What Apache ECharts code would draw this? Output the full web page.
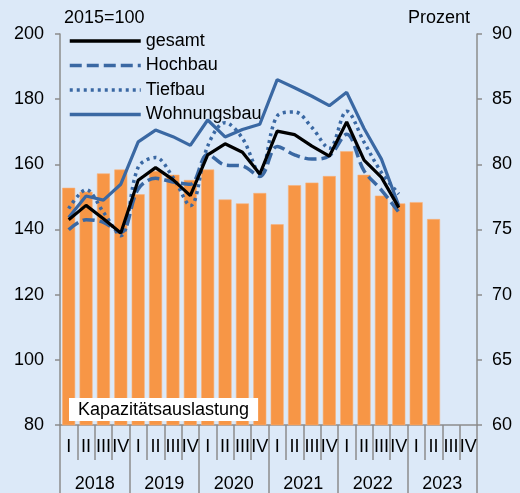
<!DOCTYPE html>
<html>
<head>
<meta charset="utf-8">
<script src="https://cdn.jsdelivr.net/npm/echarts@6/dist/echarts.min.js"></script>
<style>
html,body{margin:0;padding:0;background:#dce9f8;}
#c{width:520px;height:493px;}
</style>
</head>
<body>
<div id="c"></div>
<script>
const quarters = ['I','II','III','IV','I','II','III','IV','I','II','III','IV','I','II','III','IV','I','II','III','IV','I','II','III','IV'];
const years = ['2018','2019','2020','2021','2022','2023'];
const gesamt = [143.0,147.4,143.3,138.9,155.1,159.0,155.3,150.4,162.9,166.3,163.7,157.0,170.2,169.1,165.6,162.5,173.0,161.3,156.0,146.7];
const hochbau = [139.9,143.0,142.2,139.1,152.4,155.7,154.6,153.9,163.1,159.8,159.5,156.3,165.5,162.9,161.6,162.6,169.2,158.0,152.1,145.3];
const tiefbau = [146.4,152.2,145.3,138.1,159.1,162.1,156.0,147.3,165.6,172.8,168.0,157.3,174.8,176.1,171.3,164.9,176.3,166.8,157.5,150.9];
const wohnungsbau = [143.7,150.3,149.0,153.9,166.9,170.5,168.5,165.8,173.6,168.4,170.7,172.3,186.0,183.5,180.9,178.0,182.1,171.0,161.6,147.3];
const auslastung = [78.2,77.9,79.3,79.6,77.7,79.5,79.2,78.8,79.6,77.3,77.0,77.8,75.4,78.4,78.6,79.1,81.0,79.2,77.6,77.0,77.1,75.8];

const FONT = 'Liberation Sans, Arial, sans-serif';
const FS = 18;
const BLUE = '#3a68a3';
const GRAY = '#8c8c8c';
const TXT = '#000';
const NOSYM = {color: 'rgba(0,0,0,0)', borderWidth: 0, opacity: 0};

const chart = echarts.init(document.getElementById('c'), null, {renderer:'canvas'});
chart.setOption({
  backgroundColor: '#dce9f8',
  animation: false,
  textStyle: {fontFamily: FONT},
  grid: {left: 60, right: 43, top: 34, bottom: 67, containLabel: false},
  legend: {
    orient: 'vertical', left: 63, top: 27,
    itemWidth: 71, itemHeight: 14, itemGap: 6.5,
    data: ['gesamt','Hochbau','Tiefbau','Wohnungsbau'],
    itemStyle: {opacity: 0},
    lineStyle: {width: 3.5},
    textStyle: {fontSize: FS, color: TXT, fontFamily: FONT},
    selectedMode: false
  },
  xAxis: [
    {
      type: 'category', data: quarters, position: 'bottom', boundaryGap: true,
      axisLine: {show: true, lineStyle: {color: GRAY, width: 1.5}},
      axisTick: {show: true, interval: 0, length: 35, lineStyle: {color: GRAY, width: 1.5}},
      axisLabel: {interval: 0, margin: 13, fontSize: FS, color: TXT, fontFamily: FONT},
      splitLine: {show: false}
    },
    {
      type: 'category', data: years, position: 'bottom', boundaryGap: true,
      axisLine: {show: false},
      axisTick: {show: true, interval: 0, length: 70, lineStyle: {color: GRAY, width: 1.5}},
      axisLabel: {interval: 0, margin: 50, fontSize: FS, color: TXT, fontFamily: FONT},
      splitLine: {show: false}
    }
  ],
  yAxis: [
    {
      type: 'value', min: 80, max: 200, interval: 20, position: 'left',
      name: '2015=100', nameLocation: 'end', nameGap: 7,
      nameTextStyle: {align: 'left', fontSize: FS, color: TXT, fontFamily: FONT, padding: [0,0,0,4]},
      axisLine: {show: true, lineStyle: {color: GRAY, width: 1.5}},
      axisTick: {show: true, length: 5, lineStyle: {color: GRAY, width: 1.5}},
      axisLabel: {margin: 16, fontSize: FS, color: TXT, fontFamily: FONT},
      splitLine: {show: false}
    },
    {
      type: 'value', min: 60, max: 90, interval: 5, position: 'right',
      name: 'Prozent', nameLocation: 'end', nameGap: 7,
      nameTextStyle: {align: 'right', fontSize: FS, color: TXT, fontFamily: FONT, padding: [0,7,0,0]},
      axisLine: {show: true, lineStyle: {color: GRAY, width: 1.5}},
      axisTick: {show: true, length: 5, lineStyle: {color: GRAY, width: 1.5}},
      axisLabel: {margin: 15, fontSize: FS, color: TXT, fontFamily: FONT},
      splitLine: {show: false}
    }
  ],
  series: [
    {
      name: 'Kapazitätsauslastung', type: 'bar', xAxisIndex: 0, yAxisIndex: 1,
      data: auslastung, barWidth: 13,
      itemStyle: {color: '#f79646', borderColor: '#f9b27a', borderWidth: 0.6},
      z: 1
    },
    {
      name: 'Wohnungsbau', type: 'line', xAxisIndex: 0, yAxisIndex: 0, data: wohnungsbau,
      symbol: 'none', lineStyle: {color: BLUE, width: 3.2}, itemStyle: NOSYM, z: 3
    },
    {
      name: 'Tiefbau', type: 'line', xAxisIndex: 0, yAxisIndex: 0, data: tiefbau,
      symbol: 'none', smooth: 0.35, lineStyle: {color: BLUE, width: 3.5, type: [3,4], cap: 'butt'}, itemStyle: NOSYM, z: 3
    },
    {
      name: 'Hochbau', type: 'line', xAxisIndex: 0, yAxisIndex: 0, data: hochbau,
      symbol: 'none', smooth: 0.35, lineStyle: {color: BLUE, width: 3.5, type: [12,5]}, itemStyle: NOSYM, z: 3
    },
    {
      name: 'gesamt', type: 'line', xAxisIndex: 0, yAxisIndex: 0, data: gesamt,
      symbol: 'none', lineStyle: {color: '#000', width: 3.2}, itemStyle: NOSYM, z: 4
    }
  ],
  graphic: [
    {
      type: 'text', left: 69, top: 398, z: 10,
      style: {
        text: 'Kapazitätsauslastung', fontSize: FS, fontFamily: FONT, fill: TXT,
        backgroundColor: '#fff', padding: [3, 9, 2, 9]
      }
    }
  ]
});
</script>
</body>
</html>
